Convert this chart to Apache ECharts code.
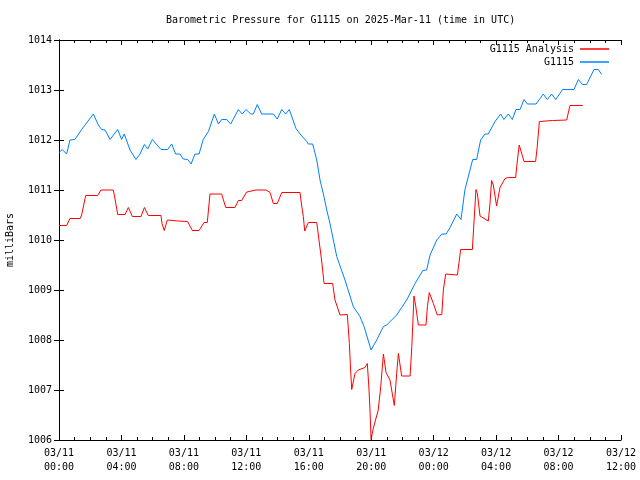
<!DOCTYPE html>
<html>
<head>
<meta charset="utf-8">
<script src="https://cdn.jsdelivr.net/npm/echarts@6/dist/echarts.min.js"></script>
<style>html,body{margin:0;padding:0;background:#fff}#c{width:640px;height:480px}</style>
</head>
<body>
<div id="c"></div>
<script>
// Hours since 2025-03-11 00:00 UTC
var blueTimes = [0, 0.21, 0.49, 0.7, 1.02, 1.45, 2.2, 2.52, 2.73, 2.95, 3.27, 3.76, 4.01, 4.18, 4.55, 4.93, 5.19, 5.47, 5.68, 5.98, 6.53, 6.96, 7.22, 7.47, 7.75, 7.96, 8.24, 8.46, 8.71, 8.97, 9.24, 9.57, 9.95, 10.21, 10.42, 10.74, 11.0, 11.49, 11.74, 11.98, 12.28, 12.45, 12.7, 12.98, 13.73, 13.98, 14.27, 14.52, 14.75, 15.18, 15.44, 15.87, 15.97, 16.25, 16.51, 16.72, 16.93, 17.15, 17.36, 17.79, 18.32, 18.85, 19.28, 19.54, 19.99, 20.35, 20.78, 20.99, 21.63, 22.27, 22.81, 23.3, 23.55, 23.77, 24.2, 24.52, 24.8, 25.05, 25.48, 25.75, 26.0, 26.5, 26.75, 27.01, 27.29, 27.5, 27.93, 28.29, 28.5, 28.78, 29.04, 29.27, 29.53, 29.79, 30.0, 30.56, 31.02, 31.28, 31.56, 31.82, 32.26, 32.99, 33.27, 33.53, 33.8, 34.27, 34.55, 34.76];
var blueValues = [1011.75, 1011.81, 1011.72, 1012.0, 1012.01, 1012.21, 1012.52, 1012.3, 1012.21, 1012.2, 1012.01, 1012.21, 1012.01, 1012.12, 1011.8, 1011.61, 1011.72, 1011.91, 1011.82, 1012.01, 1011.81, 1011.81, 1011.92, 1011.72, 1011.72, 1011.62, 1011.61, 1011.52, 1011.72, 1011.72, 1012.01, 1012.17, 1012.52, 1012.32, 1012.41, 1012.41, 1012.32, 1012.61, 1012.52, 1012.61, 1012.52, 1012.52, 1012.71, 1012.52, 1012.52, 1012.42, 1012.61, 1012.52, 1012.61, 1012.23, 1012.12, 1011.97, 1011.92, 1011.92, 1011.6, 1011.2, 1010.93, 1010.6, 1010.33, 1009.67, 1009.2, 1008.67, 1008.47, 1008.27, 1007.8, 1008.0, 1008.27, 1008.3, 1008.5, 1008.8, 1009.13, 1009.39, 1009.4, 1009.7, 1010.0, 1010.12, 1010.12, 1010.25, 1010.52, 1010.41, 1011.0, 1011.61, 1011.61, 1012.0, 1012.12, 1012.12, 1012.37, 1012.52, 1012.41, 1012.52, 1012.41, 1012.61, 1012.61, 1012.81, 1012.72, 1012.72, 1012.92, 1012.81, 1012.92, 1012.81, 1013.01, 1013.01, 1013.21, 1013.11, 1013.11, 1013.41, 1013.41, 1013.31];

var redTimes = [0, 0.49, 0.7, 1.35, 1.45, 1.71, 2.48, 2.69, 3.48, 3.6, 3.76, 4.23, 4.44, 4.7, 5.25, 5.47, 5.72, 6.53, 6.6, 6.74, 6.94, 7.6, 8.24, 8.54, 8.97, 9.29, 9.5, 9.67, 10.42, 10.68, 11.27, 11.49, 11.7, 12.02, 12.62, 13.26, 13.52, 13.73, 13.98, 14.27, 15.44, 15.55, 15.65, 15.74, 15.97, 16.51, 16.61, 16.82, 16.98, 17.53, 17.68, 18.0, 18.47, 18.6, 18.68, 18.75, 18.96, 19.17, 19.6, 19.75, 19.86, 19.92, 19.99, 20.13, 20.45, 20.61, 20.78, 20.95, 21.2, 21.42, 21.48, 21.63, 21.74, 21.95, 22.49, 22.6, 22.74, 22.85, 23.02, 23.51, 23.6, 23.72, 23.98, 24.23, 24.52, 24.62, 24.77, 25.52, 25.73, 26.48, 26.59, 26.71, 26.8, 26.97, 27.5, 27.6, 27.71, 27.82, 28.03, 28.25, 28.57, 28.78, 29.25, 29.32, 29.48, 29.79, 30.53, 30.63, 30.77, 31.62, 32.52, 32.73, 33.55];
var redValues = [1010.29, 1010.29, 1010.43, 1010.43, 1010.5, 1010.89, 1010.89, 1011.0, 1011.0, 1010.8, 1010.51, 1010.51, 1010.65, 1010.47, 1010.47, 1010.65, 1010.49, 1010.49, 1010.33, 1010.19, 1010.4, 1010.38, 1010.37, 1010.19, 1010.19, 1010.35, 1010.35, 1010.92, 1010.92, 1010.65, 1010.65, 1010.79, 1010.79, 1010.96, 1011.0, 1011.0, 1010.95, 1010.73, 1010.73, 1010.95, 1010.95, 1010.67, 1010.47, 1010.18, 1010.35, 1010.35, 1010.1, 1009.6, 1009.13, 1009.13, 1008.8, 1008.5, 1008.51, 1007.93, 1007.4, 1007.01, 1007.33, 1007.4, 1007.45, 1007.53, 1007.0, 1006.6, 1006.01, 1006.23, 1006.6, 1007.07, 1007.72, 1007.35, 1007.2, 1006.8, 1006.69, 1007.33, 1007.73, 1007.28, 1007.28, 1007.87, 1008.88, 1008.68, 1008.3, 1008.3, 1008.67, 1008.95, 1008.73, 1008.5, 1008.51, 1009.0, 1009.32, 1009.3, 1009.81, 1009.81, 1010.4, 1011.01, 1010.93, 1010.48, 1010.38, 1010.7, 1011.19, 1011.1, 1010.68, 1011.05, 1011.23, 1011.25, 1011.25, 1011.47, 1011.9, 1011.57, 1011.57, 1011.85, 1012.37, 1012.39, 1012.4, 1012.69, 1012.69];

var titleText = 'Barometric Pressure for G1115 on 2025-Mar-11 (time in UTC)';
var yName = 'milliBars';
var seriesNames = ['G1115 Analysis', 'G1115'];
var xMin = 0, xMax = 36, xStep = 4;
var yMin = 1006, yMax = 1014, yStep = 1;

var FONT = '"DejaVu Sans Mono", "Liberation Mono", monospace';
function pad(n){ return (n < 10 ? '0' : '') + n; }
function xLabel(v){
  var day = 11 + Math.floor(v / 24);
  var hr = Math.round(v - Math.floor(v / 24) * 24);
  return '03/' + pad(day) + '\n' + pad(hr) + ':00';
}
function pairs(t, v){ return t.map(function(x, i){ return [x, v[i]]; }); }

var chart = echarts.init(document.getElementById('c'), null, {renderer: 'canvas'});
var axisLine = {show: true, lineStyle: {color: '#000', width: 1}};
chart.setOption({
  animation: false,
  backgroundColor: '#fff',
  textStyle: {fontFamily: FONT},
  graphic: [{
    type: 'text', left: 340 - 174, top: 15,
    style: {text: titleText, font: '10px ' + FONT, fill: '#000'}
  }],
  legend: [{
    data: [seriesNames[0]], orient: 'vertical', right: 31, top: 44, padding: 0,
    align: 'right', icon: 'rect', itemWidth: 29, itemHeight: 1.5, itemGap: 0,
    textStyle: {fontFamily: FONT, fontSize: 10, color: '#000', padding: [0, 1, 0, 0]}
  }, {
    data: [seriesNames[1]], orient: 'vertical', right: 31, top: 57, padding: 0,
    align: 'right', icon: 'rect', itemWidth: 29, itemHeight: 1.5, itemGap: 0,
    textStyle: {fontFamily: FONT, fontSize: 10, color: '#000', padding: [0, 1, 0, 0]}
  }],
  grid: {left: 59, right: 19, top: 40, bottom: 40, containLabel: false, outerBoundsMode: 'none'},
  xAxis: [{
    type: 'value', min: xMin, max: xMax, interval: xStep, position: 'bottom',
    axisLine: axisLine, splitLine: {show: false},
    axisTick: {show: true, inside: true, length: 5, lineStyle: {color: '#000'}},
    minorTick: {show: true, splitNumber: 4, length: 3, lineStyle: {color: '#000'}},
    axisLabel: {formatter: xLabel, fontFamily: FONT, fontSize: 10, color: '#000', lineHeight: 14, margin: 6, showMinLabel: true, showMaxLabel: true}
  }, {
    type: 'value', min: xMin, max: xMax, interval: xStep, position: 'top',
    axisLine: axisLine, splitLine: {show: false},
    axisTick: {show: true, inside: true, length: 5, lineStyle: {color: '#000'}},
    minorTick: {show: true, splitNumber: 4, length: 3, lineStyle: {color: '#000'}},
    axisLabel: {show: false}
  }],
  yAxis: [{
    type: 'value', min: yMin, max: yMax, interval: yStep, position: 'left',
    name: yName, nameLocation: 'middle', nameGap: 44, nameRotate: 90,
    nameTextStyle: {fontFamily: FONT, fontSize: 10, color: '#000'},
    axisLine: axisLine, splitLine: {show: false},
    axisTick: {show: true, inside: true, length: 5, lineStyle: {color: '#000'}},
    axisLabel: {fontFamily: FONT, fontSize: 10, color: '#000', margin: 7, formatter: function(v){ return String(v); }}
  }, {
    type: 'value', min: yMin, max: yMax, interval: yStep, position: 'right',
    axisLine: axisLine, splitLine: {show: false},
    axisTick: {show: true, inside: true, length: 5, lineStyle: {color: '#000'}},
    axisLabel: {show: false}
  }],
  series: [{
    name: seriesNames[0], type: 'line', xAxisIndex: 0, yAxisIndex: 0,
    data: pairs(redTimes, redValues), showSymbol: false, symbol: 'none',
    lineStyle: {color: '#ff0000', width: 1}, itemStyle: {color: '#ff0000'}, z: 3
  }, {
    name: seriesNames[1], type: 'line', xAxisIndex: 0, yAxisIndex: 0,
    data: pairs(blueTimes, blueValues), showSymbol: false, symbol: 'none',
    lineStyle: {color: '#0080ff', width: 1}, itemStyle: {color: '#0080ff'}, z: 2
  }]
});
</script>
</body>
</html>
